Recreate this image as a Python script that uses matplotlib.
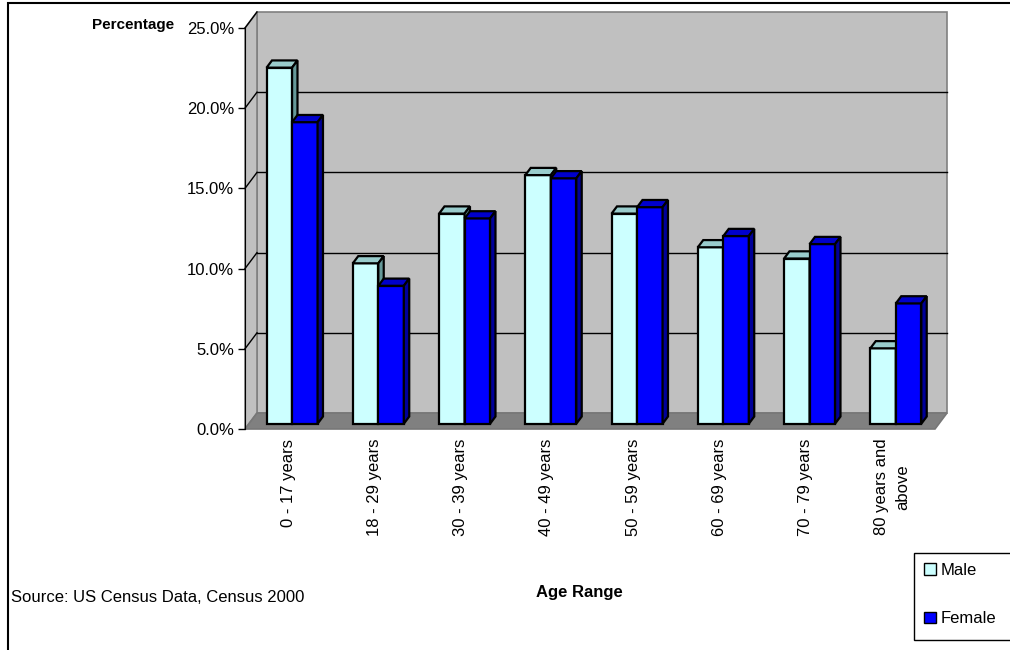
import matplotlib.pyplot as plt
from matplotlib.patches import Polygon, Patch, Rectangle

plt.rcParams['font.family'] = ['Liberation Sans', 'DejaVu Sans']

age_groups = ['0 - 17 years', '18 - 29 years', '30 - 39 years', '40 - 49 years',
              '50 - 59 years', '60 - 69 years', '70 - 79 years', '80 years and\nabove']
male = [22.2, 10.0, 13.1, 15.5, 13.1, 11.0, 10.3, 4.7]
female = [18.8, 8.6, 12.8, 15.3, 13.5, 11.7, 11.2, 7.5]
y_ticks = [0, 5, 10, 15, 20, 25]

male_col = ['#CCFFFF', '#99CCCC', '#669999']      # front, top, side
female_col = ['#0000FF', '#0000CC', '#000099']

W, H = 1010, 650
fig = plt.figure(figsize=(W / 100, H / 100), dpi=100)
ax = fig.add_axes([245 / W, (H - 429) / H, 690 / W, 401 / H])

n = len(age_groups)
x0, x1 = -0.5, n - 0.5
ymax = 25
# depth of the 3d box in data units
DX = 12 / (690 / n)
DY = 16 / (401 / ymax)

# walls and floor
ax.add_patch(Polygon([(x0 + DX, DY), (x1 + DX, DY), (x1 + DX, ymax + DY), (x0 + DX, ymax + DY)],
                     closed=True, fc='#C0C0C0', ec='#808080', lw=1.2, clip_on=False, zorder=1))
ax.add_patch(Polygon([(x0, 0), (x0 + DX, DY), (x0 + DX, ymax + DY), (x0, ymax)],
                     closed=True, fc='#C0C0C0', ec='#808080', lw=1.2, clip_on=False, zorder=1))
ax.add_patch(Polygon([(x0, 0), (x1, 0), (x1 + DX, DY), (x0 + DX, DY)],
                     closed=True, fc='#808080', ec='#777777', lw=1.2, clip_on=False, zorder=1))
for g in y_ticks[1:-1]:
    ax.plot([x0 + DX, x1 + DX], [g + DY, g + DY], color='black', lw=1, zorder=2, clip_on=False)
for g in y_ticks[1:]:
    ax.plot([x0, x0 + DX], [g, g + DY], color='black', lw=1, zorder=2, clip_on=False)

# bars: front face sits a third into the box, depth about half of it
f, bd = 0.33, 0.45
bw = 25.5 / (690 / n)
z = 3
for i in range(n):
    for k, (vals, cols) in enumerate([(male, male_col), (female, female_col)]):
        left = i - bw + k * bw + f * DX
        base = f * DY
        v = vals[i]
        ax.bar(left, v, width=bw, bottom=base, align='edge', color=cols[0],
               edgecolor='black', lw=1.6, zorder=z, clip_on=False)
        top = base + v
        ax.add_patch(Polygon([(left, top), (left + bd * DX, top + bd * DY),
                              (left + bw + bd * DX, top + bd * DY), (left + bw, top)],
                             closed=True, fc=cols[1], ec='black', lw=1.6, zorder=z, clip_on=False))
        ax.add_patch(Polygon([(left + bw, base), (left + bw + bd * DX, base + bd * DY),
                              (left + bw + bd * DX, top + bd * DY), (left + bw, top)],
                             closed=True, fc=cols[2], ec='black', lw=1.6, zorder=z, clip_on=False))
        z += 1

ax.set_xlim(x0, x1)
ax.set_ylim(0, ymax)
ax.set_facecolor('none')
for s in ['top', 'right', 'bottom']:
    ax.spines[s].set_visible(False)
ax.spines['left'].set_color('black')
ax.spines['left'].set_zorder(30)
ax.set_yticks(y_ticks)
ax.set_yticklabels(['%.1f%%' % t for t in y_ticks], fontsize=12)
ax.tick_params(axis='y', length=5, width=1, color='black', pad=3)
ax.set_xticks(range(n))
ax.set_xticklabels(age_groups, rotation=90, fontsize=12, va='top', ha='center',
                   linespacing=1.5)
ax.tick_params(axis='x', length=0, pad=7)

fig.text(174 / W, 1 - 25 / H, 'Percentage', ha='right', va='center',
         fontsize=11, fontweight='bold')
fig.text(579 / W, 1 - 592 / H, 'Age Range', ha='center', va='center',
         fontsize=12, fontweight='bold')
fig.text(11 / W, 1 - 598 / H, 'Source: US Census Data, Census 2000', ha='left', va='center',
         fontsize=12)

# legend box runs off the right edge, so draw the frame by hand
fig.add_artist(Rectangle((914 / W, 1 - 640 / H), 120 / W, 87 / H, transform=fig.transFigure,
                         fc='white', ec='black', lw=1))
handles = [Patch(fc=male_col[0], ec='black', lw=1), Patch(fc=female_col[0], ec='black', lw=1)]
leg = fig.legend(handles, ['Male', 'Female'], loc='upper left',
                 bbox_to_anchor=(914 / W, 1 - 553 / H), fontsize=12, frameon=False,
                 handlelength=0.7, handleheight=0.7, handletextpad=0.3,
                 labelspacing=2.0, borderpad=0.6, borderaxespad=0)

# outer chart border
fig.add_artist(Rectangle((8 / W, -0.05), 1.1, 1.05 - 3 / H, transform=fig.transFigure,
                         fill=False, ec='black', lw=1.5))

fig.savefig('out.png', dpi=100)
